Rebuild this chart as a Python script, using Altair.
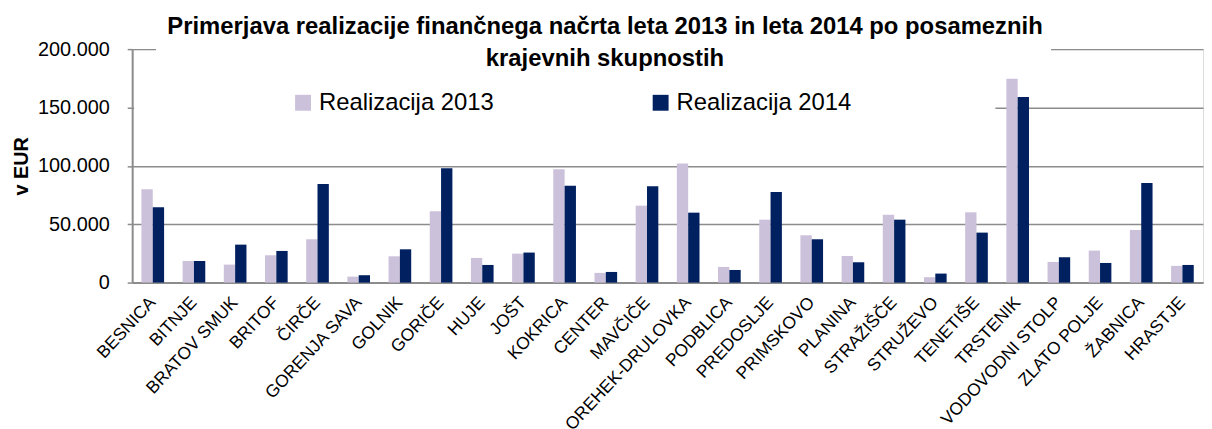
import altair as alt
import pandas as pd

districts = ["BESNICA", "BITNJE", "BRATOV SMUK", "BRITOF", "ČIRČE", "GORENJA SAVA",
             "GOLNIK", "GORIČE", "HUJE", "JOŠT", "KOKRICA", "CENTER", "MAVČIČE",
             "OREHEK-DRULOVKA", "PODBLICA", "PREDOSLJE", "PRIMSKOVO", "PLANINA",
             "STRAŽIŠČE", "STRUŽEVO", "TENETIŠE", "TRSTENIK", "VODOVODNI STOLP",
             "ZLATO POLJE", "ŽABNICA", "HRASTJE"]

real_2013 = [80000, 18500, 15400, 23400, 37100, 5100, 22500, 61000, 21100, 24800,
             97000, 8300, 65900, 102100, 13400, 53900, 40500, 22800, 58200, 4600,
             60200, 174600, 17700, 27400, 45100, 14300]
real_2014 = [64500, 18500, 32500, 27100, 84400, 6300, 28500, 97900, 15100, 25700,
             83000, 9100, 82500, 59900, 10800, 77600, 37100, 17400, 53900, 7700,
             42800, 158900, 21700, 16800, 85300, 15100]

series = ["Realizacija 2013", "Realizacija 2014"]
colors = ["#CCC1DA", "#002060"]
y_ticks = [0, 50000, 100000, 150000, 200000]
title_lines = ["Primerjava realizacije finančnega načrta leta 2013 in leta 2014 po posameznih",
               "krajevnih skupnostih"]

rows = []
for i, d in enumerate(districts):
    rows.append({"district": d, "series": series[0], "value": real_2013[i]})
    rows.append({"district": d, "series": series[1], "value": real_2014[i]})
df = pd.DataFrame(rows)

SANS = "Liberation Sans, Arial"
GRID = "#8C8C8C"

bars = alt.Chart(df).mark_bar().encode(
    x=alt.X("district:N", sort=districts,
            scale=alt.Scale(paddingInner=0.45, paddingOuter=0.225),
            axis=alt.Axis(title=None, labelAngle=-47, labelAlign="right",
                          labelBaseline="middle", labelPadding=17,
                          labelFont=SANS, labelFontSize=17.5, labelColor="black",
                          labelOverlap=False, labelBound=False, labelLimit=400,
                          ticks=False, domainColor=GRID, domainWidth=2)),
    xOffset=alt.XOffset("series:N", sort=series),
    y=alt.Y("value:Q", scale=alt.Scale(domain=[0, 200000], nice=False),
            axis=alt.Axis(title="v EUR", values=y_ticks,
                          labelExpr="replace(format(datum.value, ','), ',', '.')",
                          labelFont=SANS, labelFontSize=20, labelColor="black",
                          labelPadding=18, tickSize=5, tickColor=GRID, tickWidth=1.5,
                          domainColor=GRID, domainWidth=2,
                          grid=True, gridColor=GRID, gridWidth=1.5,
                          titleFont=SANS, titleFontSize=20, titleFontWeight="bold",
                          titleColor="black", titlePadding=6)),
    color=alt.Color("series:N", sort=series,
                    scale=alt.Scale(domain=series, range=colors),
                    legend=alt.Legend(title=None, orient="none", direction="horizontal",
                                      legendX=160, legendY=42, symbolType="square",
                                      symbolSize=256, symbolStrokeWidth=0,
                                      labelFont=SANS, labelFontSize=24, labelLimit=400,
                                      labelColor="black", labelOffset=4,
                                      columnPadding=155, padding=0)),
)

one = pd.DataFrame({"k": [0]})
mask_top = alt.Chart(one).mark_rect(color="white").encode(
    x=alt.value(24), x2=alt.value(925), y=alt.value(-4), y2=alt.value(4))
mask_legend = alt.Chart(one).mark_rect(color="white").encode(
    x=alt.value(2), x2=alt.value(869), y=alt.value(54), y2=alt.value(64))

title = alt.Chart(one).mark_text(
    font=SANS, fontSize=24, fontWeight="bold", color="black",
    align="center", baseline="alphabetic", lineHeight=32,
).encode(x=alt.value(476), y=alt.value(-15), text=alt.value(title_lines))

chart = alt.layer(bars, mask_top, mask_legend, title).properties(
    width=1078, height=235,
    padding={"left": 125, "top": 40, "right": 1, "bottom": 146},
    autosize=alt.AutoSizeParams(type="none"),
).configure_view(stroke=None).configure(background="white")

chart.save("out.html", embed_options={"renderer": "svg", "actions": False})
